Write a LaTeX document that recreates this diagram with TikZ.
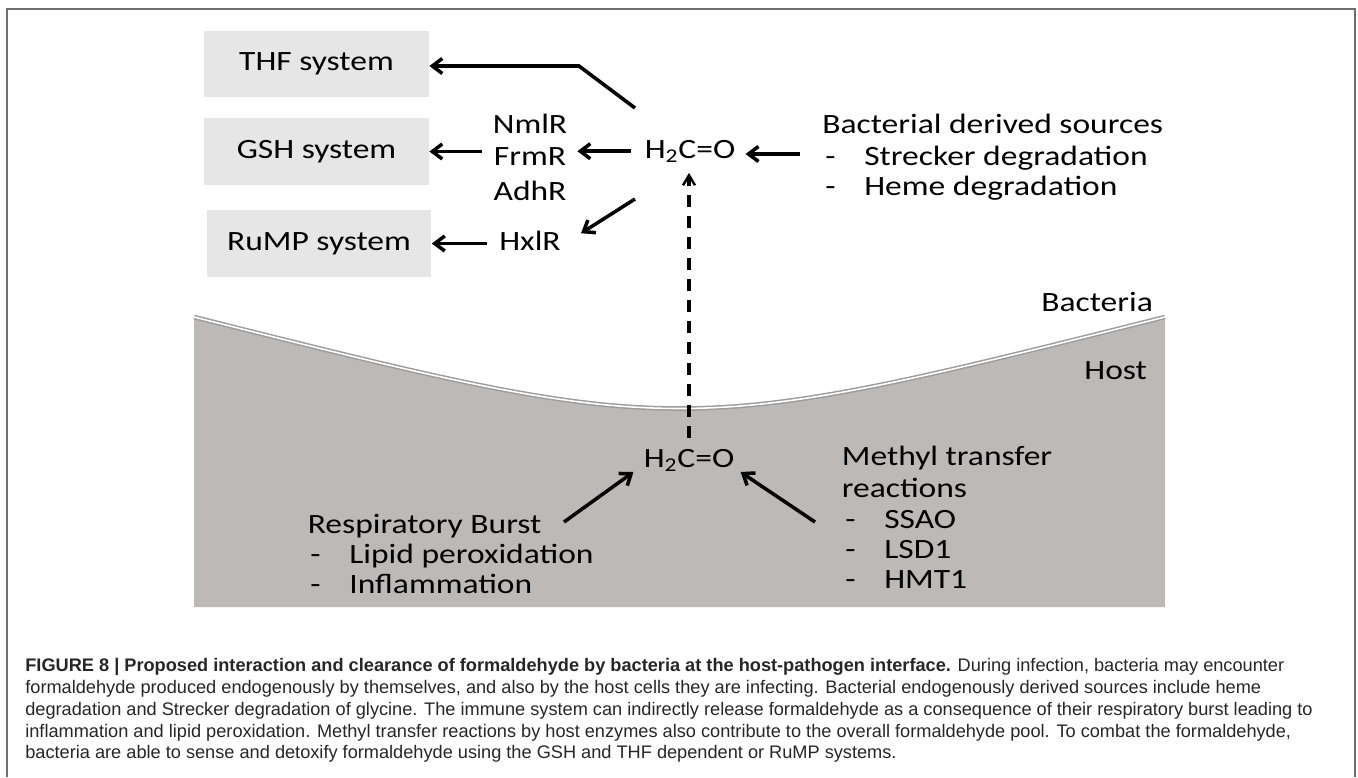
\documentclass[tikz,border=0pt]{standalone}
\usepackage{fontspec}
\setmainfont{Carlito}[FakeStretch=1.2]
\newfontfamily\capfont{Liberation Sans}
\usetikzlibrary{arrows.meta,positioning}

\definecolor{boxgray}{HTML}{E6E6E6}
\definecolor{hostgray}{HTML}{BDB9B6}
\definecolor{membrane}{HTML}{9C9C9C}
\definecolor{framegray}{HTML}{6E6E6E}
\definecolor{captext}{HTML}{262626}

\newcommand{\diagfont}{\fontsize{15.9}{19}\selectfont}
\newcommand{\dashitem}{\makebox[0.78cm][l]{-}}

\tikzset{
  sysbox/.style={fill=boxgray, minimum width=4.5cm, minimum height=1.33cm, font=\diagfont},
  lbl/.style={inner sep=0pt, font=\diagfont, anchor=base west},
  arr/.style={line width=2pt, -{Straight Barb[length=0.2cm,width=0.3cm]}},
  dasharr/.style={line width=2.4pt, dash pattern=on 0.24cm off 0.18cm,
    -{Straight Barb[length=0.2cm,width=0.24cm,line width=1.4pt]}},
  capline/.style={inner sep=0pt, anchor=base west, text=captext,
    font=\capfont\fontsize{10.35}{12.3}\selectfont}
}

\begin{document}
\begin{tikzpicture}[x=0.02cm,y=-0.02cm]
    \useasboundingbox (0,0) rectangle (1358,777);
    % frame
    \draw[framegray, line width=1.2pt] (7,777) -- (7,9) -- (1355,9) -- (1355,777);

    % host cell and membrane
    \fill[hostgray] (194,317) .. controls (679.5,439) .. (1165,317) -- (1165,607) -- (194,607) -- cycle;
    \draw[membrane, line width=2.6pt] (194,317) .. controls (679.5,439) .. (1165,317);
    \draw[white, line width=0.9pt] (194,317) .. controls (679.5,439) .. (1165,317);

    % detox systems
    \node[sysbox] (thf) at (316.5,64) {THF system};
    \node[sysbox] (gsh) at (316.5,151.5) {GSH system};
    \node[sysbox] (rump) at (319,243.5) {RuMP system};

    % regulators
    \node[lbl, anchor=base] (nmlr) at (530,133) {NmlR};
    \node[lbl, anchor=base] (frmr) at (530,165) {FrmR};
    \node[lbl, anchor=base] (adhr) at (530,200) {AdhR};
    \node[lbl, anchor=base] (hxlr) at (530,250) {HxlR};

    % formaldehyde
    \node[lbl, anchor=base] (fa) at (690,158) {H\textsubscript{2}C=O};
    \node[lbl, anchor=base] (fahost) at (689,467) {H\textsubscript{2}C=O};

    % bacterial side
    \node[lbl] (bsrc) at (822,133) {Bacterial derived sources};
    \node[lbl] (strk) at (825,165) {\dashitem Strecker degradation};
    \node[lbl] (heme) at (825,195) {\dashitem Heme degradation};
    \node[lbl] (bact) at (1041,311) {Bacteria};

    % host side
    \node[lbl] (host) at (1084,379) {Host};
    \node[lbl] (resp) at (307.5,533) {Respiratory Burst};
    \node[lbl] (lipid) at (310,563) {\dashitem Lipid peroxidation};
    \node[lbl] (infl) at (310,593) {\dashitem Inflammation};
    \node[lbl] (meth) at (841.5,465) {Methyl transfer};
    \node[lbl] (react) at (841.5,497) {reactions};
    \node[lbl] (ssao) at (845,528) {\dashitem SSAO};
    \node[lbl] (lsd) at (845,558) {\dashitem LSD1};
    \node[lbl] (hmt) at (845,588) {\dashitem HMT1};

    % arrows
    \coordinate (thfstart) at (635,108);
    \coordinate (thfkink) at (579,66);
    \coordinate (hxlstart) at (635,199);
    \coordinate (srcstart) at (800,154);
    \coordinate (respstart) at (564,522);
    \coordinate (methstart) at (815,522);
    \draw[arr] (thfstart) -- (thfkink) -- (thfkink -| thf.east);
    \draw[arr, shorten <=0.27cm, shorten >=0.22cm] (fa.west) -- (fa.west -| frmr.east);
    \draw[arr, shorten <=0.24cm] (frmr.west |- gsh.east) -- (gsh.east);
    \draw[arr] (hxlstart) -- ([xshift=0.4cm,yshift=-0.06cm]hxlr.north east);
    \draw[arr, shorten <=0.25cm] (hxlr.west |- rump.east) -- (rump.east);
    \draw[arr, shorten >=0.2cm] (srcstart) -- (srcstart -| fa.east);
    \draw[dasharr, shorten <=0.22cm, shorten >=0.2cm] (fahost.north) -- (fahost.north |- fa.south);
    \draw[arr] (respstart) -- ([xshift=-0.2cm,yshift=-0.1cm]fahost.base west);
    \draw[arr] (methstart) -- ([xshift=0.12cm,yshift=-0.1cm]fahost.base east);

    % caption
    \node[capline] (cap1) at (25,671) {\textbf{FIGURE 8 | Proposed interaction and clearance of formaldehyde by bacteria at the host-pathogen interface.} During infection, bacteria may encounter};
    \node[capline] (cap2) at (25,693) {formaldehyde produced endogenously by themselves, and also by the host cells they are infecting. Bacterial endogenously derived sources include heme};
    \node[capline] (cap3) at (25,715) {degradation and Strecker degradation of glycine. The immune system can indirectly release formaldehyde as a consequence of their respiratory burst leading to};
    \node[capline] (cap4) at (25,737) {inflammation and lipid peroxidation. Methyl transfer reactions by host enzymes also contribute to the overall formaldehyde pool. To combat the formaldehyde,};
    \node[capline] (cap5) at (25,758) {bacteria are able to sense and detoxify formaldehyde using the GSH and THF dependent or RuMP systems.};
\end{tikzpicture}
\end{document}
